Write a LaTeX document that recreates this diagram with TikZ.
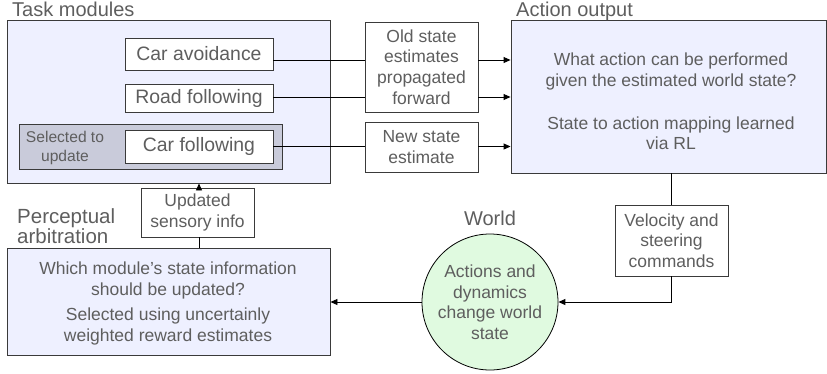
\documentclass[tikz,border=0pt]{standalone}
\usepackage{fontspec}
\setmainfont{Liberation Sans}
\usetikzlibrary{arrows.meta,calc}
\definecolor{lav}{HTML}{EEF0FF}
\definecolor{selg}{HTML}{C9CBDA}
\definecolor{wgreen}{HTML}{E0FAE0}
\definecolor{txt}{HTML}{5E5E5E}
\definecolor{bord}{HTML}{3A3A3A}
\tikzset{
  box/.style={draw=bord, line width=0.9pt, rectangle, inner sep=0pt, align=center, text=txt,
    font=\fontsize{17.5}{20.7}\selectfont},
  modbox/.style={box, fill=white, font=\fontsize{19.4}{22}\selectfont, minimum width=148pt},
  title/.style={text=txt, inner sep=0pt, font=\fontsize{20}{16}\selectfont},
  bodytxt/.style={text=txt, align=center, inner sep=0pt, font=\fontsize{17.5}{20.7}\selectfont},
  conn/.style={line width=0.9pt, draw=black},
  arr/.style={conn, -{Triangle[length=7pt,width=6pt]}},
}
\begin{document}
\begin{tikzpicture}[x=1pt,y=-1pt]
\useasboundingbox (0,0) rectangle (827,373);
% task modules
\node[box, fill=lav, minimum width=323pt, minimum height=163pt] (tm) at (168.5,101.5) {};
\node[box, fill=selg, minimum width=263pt, minimum height=45pt] (sel) at (150.5,146.5) {};
\node[bodytxt, font=\fontsize{15.6}{19}\selectfont] (seltxt) at (65,147.5) {Selected to\\update};
\node[modbox, minimum height=32pt] (ca) at (199,54) {Car avoidance};
\node[modbox, minimum height=28pt] (rf) at (199,98) {Road following};
\node[modbox, minimum height=33pt] (cf) at (199,146.5) {Car following};
\node[title, anchor=base west] (tmt) at (12,16) {Task modules};

\node[box, fill=white, minimum width=113pt, minimum height=90pt] (old) at (421.5,67) {Old state\\estimates\\propagated\\forward};
\node[box, fill=white, minimum width=113pt, minimum height=50pt] (new) at (421.5,147) {New state\\estimate};

% action output
\node[box, fill=lav, minimum width=315pt, minimum height=153pt] (act) at (668.5,96.5) {};
\node[bodytxt] (acttxt) at (671,101.5) {What action can be performed\\given the estimated world state?\\[22pt]State to action mapping learned\\via RL};
\node[title, anchor=base west] (actt) at (516,16) {Action output};

\node[box, fill=white, minimum width=113pt, minimum height=71pt] (vel) at (671.5,240.5) {Velocity and\\steering\\commands};

% world
\node[circle, draw=black, line width=0.8pt, fill=wgreen, minimum size=136pt, inner sep=0pt, align=center, text=txt,
  font=\fontsize{17.5}{20.5}\selectfont] (world) at (490,302) {Actions and\\dynamics\\change world\\state};
\node[title, anchor=base] (wt) at (490,225) {World};

% perceptual arbitration
\node[box, fill=lav, minimum width=323pt, minimum height=107pt] (per) at (168.5,301.5) {};
\node[bodytxt] (pertxt) at (168,303.5) {Which module’s state information\\should be updated?\\[5pt]Selected using uncertainly\\weighted reward estimates};
\node[title, anchor=base west, font=\fontsize{20.5}{16}\selectfont] (pert1) at (17,223.5) {Perceptual};
\node[title, anchor=base west, font=\fontsize{20.5}{16}\selectfont] (pert2) at (17,243) {arbitration};

\node[box, fill=white, minimum width=113pt, minimum height=49pt] (sens) at (197.5,212.5) {Updated\\sensory info};

% connectors
\coordinate (a1) at ([yshift=-6pt]ca.east);
\draw[conn] (a1) -- (a1 -| old.west);
\draw[arr] (a1 -| old.east) -- (a1 -| act.west);
\coordinate (a2) at ([yshift=1pt]rf.east);
\draw[conn] (a2) -- (a2 -| old.west);
\draw[arr] (a2 -| old.east) -- (a2 -| act.west);
\draw[conn] (cf.east) -- (cf.east -| new.west);
\draw[arr] (cf.east -| new.east) -- (cf.east -| act.west);
\draw[conn] (vel.north |- act.south) -- (vel.north);
\draw[arr] (vel.south) |- (world.east);
\draw[arr] (world.west) -- (world.west -| per.east);
\coordinate (s1) at ([xshift=1.5pt]sens.south);
\coordinate (s2) at ([xshift=1.5pt]sens.north);
\draw[conn] (s1 |- per.north) -- (s1);
\draw[arr] (s2) -- (s2 |- tm.south);
\end{tikzpicture}
\end{document}
